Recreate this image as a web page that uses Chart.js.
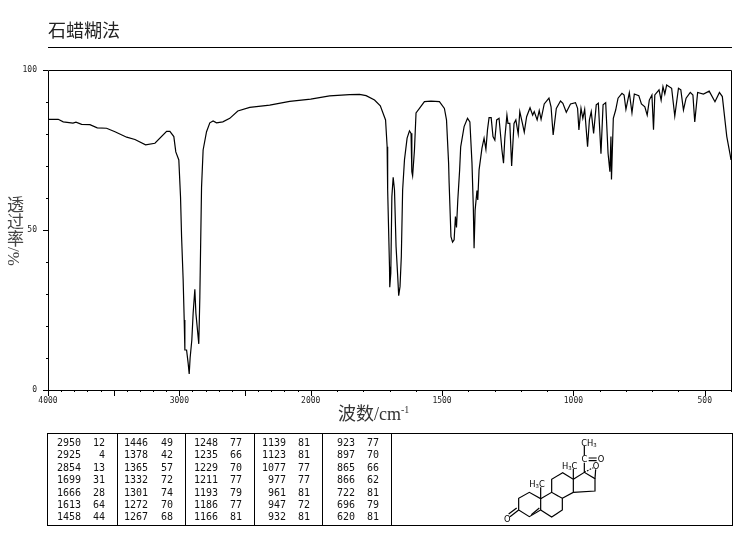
<!DOCTYPE html>
<html><head><meta charset="utf-8">
<script src="https://cdn.jsdelivr.net/npm/chart.js@4"></script>
<style>
html,body{margin:0;padding:0;background:#fff;}
#wrap{position:relative;width:737px;height:539px;overflow:hidden;}
canvas{position:absolute;left:0;top:0;}
.t{position:absolute;white-space:nowrap;}
#title{left:48px;top:18px;font:18px/22px "Noto Sans CJK SC";color:#222;}
#rule{position:absolute;left:48px;top:47px;width:684px;height:1px;background:#000;}
#xt{left:338px;top:403px;font:18px/22px "Liberation Serif","Noto Sans CJK SC";color:#333;}
#xt sup{font-size:10px;line-height:0;}
#yt{left:3px;top:196px;writing-mode:vertical-rl;font:17px/20px "Liberation Serif","Noto Sans CJK SC";color:#444;}
#tbl{position:absolute;left:47px;top:433px;width:684px;height:91px;border:1px solid #000;}
.d{position:absolute;top:0;width:1px;height:91px;background:#000;}
.c{position:absolute;font:10px/10px "DejaVu Sans Mono",monospace;color:#111;text-align:right;width:30px;}
svg{position:absolute;left:400px;top:420px;}
</style></head>
<body><div id="wrap">
<canvas id="c" width="737" height="539"></canvas>
<div id="title" class="t">石蜡糊法</div><div id="rule"></div>
<div id="xt" class="t">波数/cm<sup>-1</sup></div>
<div id="yt" class="t">透过率/%</div>
<div id="tbl"></div>
<svg width="337" height="119" viewBox="0 0 1011 357">
<g fill="none" stroke="#000" stroke-width="3.6">
<path d="M356 270L356 235L388 217L422 236L422 270L388 290Z"/>
<path d="M356 270L330 290M350 264L326 282M394 284L418 264"/>
<path d="M422 236L455 217L487 235L487 270L455 291L422 270"/>
<path d="M455 217L455 178L488 158L520 178L520 217L487 235"/>
<path d="M520 178L553 157L585 176L585 213L520 217"/>
<path d="M422 236L422 202M520 178L520 147M553 157L553 128M553 106L553 78"/>
<path d="M566 114L590 114M566 122L590 122"/>
<path d="M585 176L587 148"/>
<path d="M553 157L580 143" stroke-dasharray="5 4"/>
</g>
<g font-family="DejaVu Sans" font-size="25" fill="#000" text-anchor="middle">
<text x="322" y="306">O</text>
<text x="553" y="126">C</text>
<text x="603" y="127">O</text>
<text x="588" y="146">O</text>
<text x="567" y="77">CH<tspan font-size="16" dy="3">3</tspan></text>
<text x="411" y="202">H<tspan font-size="16" dy="3">3</tspan><tspan dy="-3">C</tspan></text>
<text x="509" y="146">H<tspan font-size="16" dy="3">3</tspan><tspan dy="-3">C</tspan></text>
</g>
</svg>
</div>
<script>
const wavenumbers=[4000,3922,3884,3810,3787,3744,3681,3625,3554,3490,3401,3338,3257,3186,3097,3072,3042,3027,3004,2991,2983,2971,2963,2958,2945,2933,2925,2918,2905,2895,2882,2874,2862,2852,2844,2831,2819,2793,2768,2743,2717,2669,2616,2555,2464,2312,2160,2000,1928,1852,1814,1789,1757,1735,1715,1709,1707,1700,1699,1695,1691,1686,1681,1675,1669,1665,1660,1655,1650,1643,1633,1624,1618,1615,1612,1605,1599,1586,1567,1542,1510,1491,1483,1475,1473,1466,1460,1454,1449,1445,1440,1433,1429,1416,1403,1394,1386,1381,1378,1374,1367,1364,1359,1348,1340,1333,1327,1321,1313,1306,1299,1292,1283,1272,1266,1261,1253,1249,1242,1235,1226,1219,1210,1204,1194,1187,1178,1165,1155,1149,1138,1130,1123,1111,1093,1085,1077,1065,1049,1040,1027,1011,992,984,979,971,964,957,946,939,932,923,913,905,895,887,877,868,861,857,855,848,839,830,815,807,800,787,777,768,751,741,728,719,711,701,695,690,674,666,659,652,645,626,614,600,591,581,571,555,545,538,527,505,483,461,444,433,416,403,400];
const transmittance=[84.6,84.6,83.8,83.4,83.7,83.0,82.9,81.9,81.8,80.7,79.0,78.3,76.6,77.1,80.8,80.8,79.2,74.4,71.9,60.3,47.9,34.4,21.9,12.5,12.5,8.4,5,10,15.6,24,31.5,24,18.8,14.4,29,63.4,75,80.7,83.5,84.1,83.5,83.8,84.9,87.2,88.3,89,90.2,90.9,91.9,92.3,92.4,92,90.6,88.8,84.4,76,62.5,38.5,32.1,36.6,60.4,66.5,62.5,44.8,35.9,29.5,32.3,41.7,62.5,71.9,78.7,81,80.2,68.2,66.9,75,86.6,88,90.1,90.3,90.1,88,84.4,70.9,64.7,47.9,46.2,46.9,54.2,50.8,59.4,68.8,76,82.3,84.9,83.8,70.9,57.3,44.3,56.3,62.3,59.4,68.8,75.6,78.7,75.2,81.3,85.1,85.1,79.2,78.1,84.4,84.9,75,70.9,78.7,85.9,83.3,83.3,70,83.3,84.4,80,87,83.3,80.6,85.4,88.2,85.9,87,84.4,87.3,84.6,89.4,91.2,88.5,79.7,88,90.3,89.6,86.8,89.4,89.8,88,81.3,88,84.9,87.7,76,84.4,87,80.2,89.1,89.6,73.8,89.1,89.8,74,68.2,79.2,65.8,84.9,87.5,91.2,92.7,92.2,87.7,92.9,86.6,92.5,92,89.4,88.5,85.9,90.6,92.2,81.3,92.2,93.8,90.6,94.8,92.5,95.3,94.3,85.6,94.3,93.8,87.5,91.2,93,92.2,83.8,93,92.5,93.4,90.1,93,91.7,79.2,73.4,71.9];
const yTicks=[0,10,20,30,40,50,60,70,80,90,100];
const yLabelled=[0,50,100];
const xTicksHigh=[4000,3900,3800,3700,3600,3500,3400,3300,3200,3100,3000,2900,2800,2700,2600,2500,2400,2300,2200,2100,2000];
const xTicksLow=[1900,1800,1700,1600,1500,1400,1300,1200,1100,1000,900,800,700,600,500,400];
const xLabelled=[4000,3000,2000,1500,1000,500];
const peakWave=[[2950,2925,2854,1699,1666,1613,1458],[1446,1378,1365,1332,1301,1272,1267],[1248,1235,1229,1211,1193,1186,1166],[1139,1123,1077,977,961,947,932],[923,897,865,866,722,696,620]];
const peakT=[[12,4,13,31,28,64,44],[49,42,57,72,74,70,68],[77,66,70,77,79,77,81],[81,81,77,77,81,72,81],[77,70,66,62,81,79,81]];

/* the spectrometer chart changes its wavenumber scale at 2000 */
const toAxis=w=>w>=2000?(4000-w)/2:1000+(2000-w);
const fromAxis=u=>u<=1000?4000-2*u:2000-(u-1000);

const tickMarks={id:'tickMarks',afterDraw(ch){
  const {ctx,chartArea:a,scales:{x,y}}=ch;
  ctx.save();ctx.strokeStyle='#000';ctx.lineWidth=1;ctx.beginPath();
  x.ticks.forEach(t=>{const w=fromAxis(t.value),p=Math.round(x.getPixelForValue(t.value))+.5;
    ctx.moveTo(p,a.bottom);ctx.lineTo(p,a.bottom+(w%500===0?6:2));});
  y.ticks.forEach(t=>{const p=Math.round(y.getPixelForValue(t.value))+.5;
    ctx.moveTo(a.left,p);ctx.lineTo(a.left-(t.value%50===0?5:2),p);});
  ctx.rect(a.left+.5,a.top+.5,a.right-a.left,a.bottom-a.top);
  ctx.stroke();ctx.restore();
}};

Chart.defaults.animation=false;
new Chart(document.getElementById('c'),{
  type:'line',
  data:{datasets:[{data:wavenumbers.map((w,i)=>({x:toAxis(w),y:transmittance[i]})),
    borderColor:'#000',borderWidth:1.2,pointRadius:0,tension:0,fill:false}]},
  options:{responsive:false,parsing:false,normalized:true,
    layout:{padding:{top:70,right:5,left:0,bottom:0}},
    plugins:{legend:{display:false},title:{display:false},tooltip:{enabled:false}},
    scales:{
      x:{type:'linear',min:0,max:2600,
        afterFit(s){s.height=149;},
        afterBuildTicks(s){s.ticks=[...xTicksHigh,...xTicksLow].map(w=>({value:toAxis(w)}));},
        grid:{display:false,tickLength:0},border:{display:false},
        ticks:{autoSkip:false,maxRotation:0,padding:6,color:'#222',
          font:{family:'"DejaVu Sans Mono"',size:8},
          callback:v=>xLabelled.includes(fromAxis(v))?String(fromAxis(v)):''}},
      y:{min:0,max:100,
        afterFit(s){s.width=48;},
        afterBuildTicks(s){s.ticks=yTicks.map(v=>({value:v}));},
        grid:{display:false,tickLength:0},border:{display:false},
        ticks:{autoSkip:false,padding:11,color:'#222',
          font:{family:'"DejaVu Sans Mono"',size:8},
          callback:v=>yLabelled.includes(v)?String(v):''}}
    }},
  plugins:[tickMarks]
});

/* peak table */
const tbl=document.getElementById('tbl');
const dividers=[69,137,206,274,343];
dividers.forEach(x=>{const d=document.createElement('div');d.className='d';d.style.left=x+'px';tbl.appendChild(d);});
const waveRight=[33,100,170,238,307], tRight=[57,125,194,262,331];
peakWave.forEach((col,i)=>col.forEach((w,r)=>{
  [[w,waveRight[i]],[peakT[i][r],tRight[i]]].forEach(([v,right])=>{
    const e=document.createElement('div');e.className='c';e.textContent=v;
    e.style.left=(right-30)+'px';e.style.top=(4+r*12.4)+'px';tbl.appendChild(e);});
}));
</script>
</body></html>
